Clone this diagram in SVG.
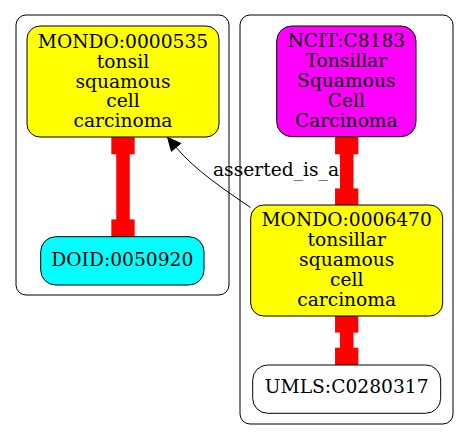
<svg xmlns="http://www.w3.org/2000/svg" width="469" height="440" viewBox="0 0 469 440">
<style>
.cl{fill:none;stroke:#000;stroke-width:1}
.nd{stroke:#000;stroke-width:1}
text{font-family:"DejaVu Serif","Liberation Serif",serif;font-size:18.67px;fill:#000;text-anchor:middle}
.red{stroke:#f00;stroke-width:13.5;fill:none}
.blk{stroke:#000;stroke-width:1;fill:none}
</style>
<defs>
<marker id="boxS" markerUnits="userSpaceOnUse" viewBox="0 -12 24 24" markerWidth="24" markerHeight="24" refX="0" refY="0" orient="auto" overflow="visible"><rect x="0" y="-11.65" width="23.3" height="23.3" fill="#f00"/></marker>
<marker id="boxE" markerUnits="userSpaceOnUse" viewBox="-24 -12 24 24" markerWidth="24" markerHeight="24" refX="0" refY="0" orient="auto" overflow="visible"><rect x="-23.3" y="-11.65" width="23.3" height="23.3" fill="#f00"/></marker>
<marker id="arr" markerUnits="userSpaceOnUse" viewBox="0 -7 14 14" markerWidth="14" markerHeight="14" refX="0" refY="0" orient="auto" overflow="visible"><path d="M0,-6 L13,0 L0,6 z" fill="#000" stroke="#000" stroke-width="1"/></marker>
</defs>
<rect width="469" height="440" fill="#fff"/>
<g id="cluster_left"><rect class="cl" x="16" y="15" width="213" height="280" rx="10"/></g>
<g id="cluster_right"><rect class="cl" x="240" y="15" width="213" height="409" rx="10"/></g>
<g id="connectors">
<path class="red" d="M123,131 L123,242.7" marker-start="url(#boxS)" marker-end="url(#boxE)"/>
<path class="red" d="M346.7,131 L346.7,211.7" marker-start="url(#boxS)" marker-end="url(#boxE)"/>
<path class="red" d="M346.7,309.3 L346.7,371" marker-start="url(#boxS)" marker-end="url(#boxE)"/>
<path class="blk" d="M250.5,207.5 C225,190 196,171 176,147.3" marker-end="url(#arr)"/>
<text x="213" y="176" style="text-anchor:start">asserted_is_a</text>
</g>
<g id="MONDO_0000535">
<rect class="nd" x="27" y="26" width="192" height="111" rx="13" fill="#ff0"/>
<text x="123" y="47.7">MONDO:0000535</text>
<text x="123" y="67.7">tonsil</text>
<text x="123" y="87.5">squamous</text>
<text x="123" y="107.3">cell</text>
<text x="123" y="127.3">carcinoma</text>
</g>
<g id="DOID_0050920">
<rect class="nd" x="40.7" y="236.7" width="163.3" height="48.3" rx="15" fill="#0ff"/>
<text x="122.3" y="266">DOID:0050920</text>
</g>
<g id="NCIT_C8183">
<rect class="nd" x="276.7" y="26" width="139.3" height="110.7" rx="15" fill="#f0f"/>
<text x="346.3" y="46.7">NCIT:C8183</text>
<text x="346.3" y="66.7">Tonsillar</text>
<text x="346.3" y="86.7">Squamous</text>
<text x="346.3" y="106.7">Cell</text>
<text x="346.3" y="126.7">Carcinoma</text>
</g>
<g id="MONDO_0006470">
<rect class="nd" x="250.7" y="205" width="192" height="111" rx="13" fill="#ff0"/>
<text x="346.7" y="226">MONDO:0006470</text>
<text x="346.7" y="246">tonsillar</text>
<text x="346.7" y="266">squamous</text>
<text x="346.7" y="286">cell</text>
<text x="346.7" y="306">carcinoma</text>
</g>
<g id="UMLS_C0280317">
<rect class="nd" x="252.7" y="365" width="188" height="48.3" rx="15" fill="#fff"/>
<text x="346.7" y="393.3">UMLS:C0280317</text>
</g>
</svg>
